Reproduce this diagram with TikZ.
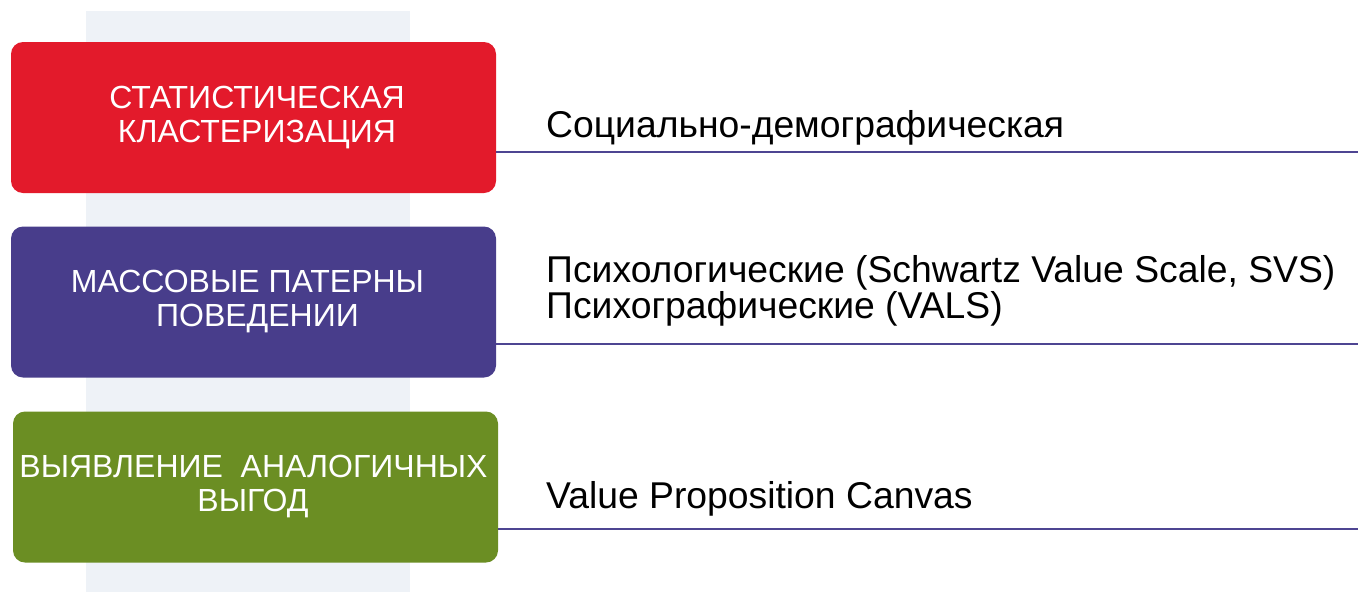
\documentclass[tikz,border=0pt]{standalone}
\usepackage{fontspec}
\setmainfont{Liberation Sans}
\definecolor{stripbg}{HTML}{EEF2F7}
\definecolor{boxred}{HTML}{E31A2B}
\definecolor{boxpurple}{HTML}{483D8B}
\definecolor{boxgreen}{HTML}{6B8E23}
\definecolor{rule}{HTML}{4E4592}
\tikzset{
  catbox/.style={rounded corners=12pt, minimum width=485pt, minimum height=151pt,
    inner sep=0pt, align=center, text=white, font=\fontsize{32}{34}\selectfont},
  desc/.style={anchor=base west, inner sep=0pt, align=left, text=black,
    font=\fontsize{37.3}{36}\selectfont},
  sep/.style={draw=rule, line width=1.6pt}
}
\begin{document}
\begin{tikzpicture}[x=1pt, y=-1pt]
\useasboundingbox (0,0) rectangle (1358,592);
% light vertical strip behind the category boxes
\fill[stripbg] (86,11) rectangle (410,592);
% category boxes
\node[catbox, fill=boxred] (stat) at (253.5,117.5)
  {\hspace*{7pt}СТАТИСТИЧЕСКАЯ\\\hspace*{7pt}КЛАСТЕРИЗАЦИЯ};
\node[catbox, fill=boxpurple] (mass) at (253.5,302)
  {МАССОВЫЕ ПАТЕРНЫ\hspace*{12pt}\\\hspace*{8pt}ПОВЕДЕНИИ};
\node[catbox, fill=boxgreen] (benef) at (255.5,487)
  {ВЫЯВЛЕНИЕ\ \ АНАЛОГИЧНЫХ\hspace*{4pt}\\ВЫГОД\hspace*{5pt}};
% descriptions (base anchor sits on the last line)
\node[desc] (d1) at (546,137) {Социально-демографическая};
\node[desc] (d2) at (546,318) {Психологические (Schwartz Value Scale, SVS)\\Психографические (VALS)};
\node[desc] (d3) at (546,508) {Value Proposition Canvas};
% separator rules
\coordinate (e1) at (1358,152);
\coordinate (e2) at (1358,344);
\coordinate (e3) at (1358,529);
\draw[sep] (stat.east |- e1) -- (e1);
\draw[sep] (mass.east |- e2) -- (e2);
\draw[sep] (benef.east |- e3) -- (e3);
\end{tikzpicture}
\end{document}
